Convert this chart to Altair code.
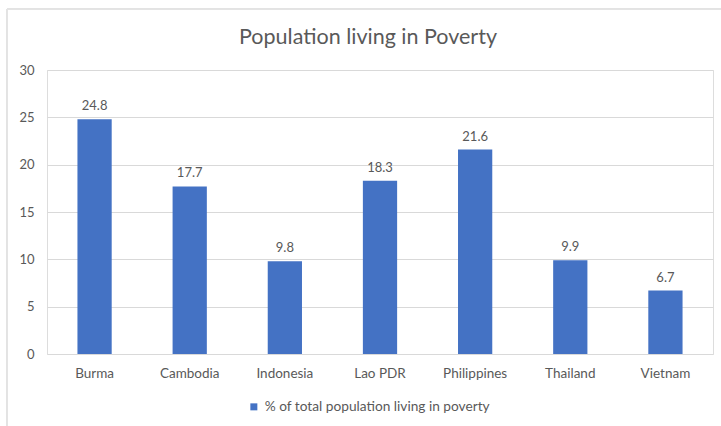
import altair as alt
import pandas as pd

countries = ["Burma", "Cambodia", "Indonesia", "Lao PDR", "Philippines", "Thailand", "Vietnam"]
poverty = [24.8, 17.7, 9.8, 18.3, 21.6, 9.9, 6.7]
series_name = "% of total population living in poverty"
chart_title = "Population living in Poverty"
y_ticks = [0, 5, 10, 15, 20, 25, 30]

df = pd.DataFrame({"country": countries, "value": poverty, "series": [series_name] * len(countries)})
title_df = pd.DataFrame({"t": [chart_title]})

FONT = "Lato"
GREY = "#595959"
BLUE = "#4472C4"

x_enc = alt.X("country:N", sort=countries, title=None,
              scale=alt.Scale(paddingInner=0.64, paddingOuter=0.32),
              axis=alt.Axis(labelAngle=0, ticks=False, domain=False, labelPadding=12,
                            labelFontSize=13.5, labelColor=GREY, labelFont=FONT))
y_enc = alt.Y("value:Q", title=None,
              scale=alt.Scale(domain=[0, 30]),
              axis=alt.Axis(values=y_ticks, ticks=False, domain=False, labelPadding=13,
                            labelFontSize=13, labelColor=GREY, labelFont=FONT,
                            gridColor="#D9D9D9", gridWidth=1))

bars = alt.Chart(df).mark_bar(color=BLUE).encode(
    x=x_enc,
    y=y_enc,
    color=alt.Color("series:N", scale=alt.Scale(range=[BLUE]), title=None,
                    legend=alt.Legend(orient="none", legendX=200, legendY=330,
                                      symbolType="square", symbolSize=49,
                                      symbolStrokeWidth=0, labelFont=FONT,
                                      labelFontSize=13.7, labelColor=GREY,
                                      padding=0, labelOffset=4, labelLimit=0)),
)

labels = alt.Chart(df).mark_text(baseline="alphabetic", dy=-9, fontSize=13, font=FONT, color=GREY).encode(
    x=alt.X("country:N", sort=countries),
    y="value:Q",
    text=alt.Text("value:Q", format=".1f"),
)

title_mark = alt.Chart(title_df).mark_text(fontSize=21.5, font=FONT, color=GREY,
                                           align="center", baseline="middle").encode(
    x=alt.value(321), y=alt.value(-32), text="t:N"
)

frame_top = alt.Chart(df).mark_rule(color="#E3E3E3", strokeWidth=1).encode(
    x=alt.value(-40), x2=alt.value(700), y=alt.value(-61)
)
frame_left = alt.Chart(df).mark_rule(color="#E3E3E3", strokeWidth=1).encode(
    x=alt.value(-40), y=alt.value(-61), y2=alt.value(400)
)

chart = alt.layer(frame_top, frame_left, bars, labels, title_mark).properties(
    width=666,
    height=284,
    autosize=alt.AutoSizeParams(type="none"),
    padding={"left": 47, "top": 70, "right": 8, "bottom": 72},
).configure_view(stroke=None).configure(background="white")

chart.save("out.html", embed_options={"renderer": "svg", "actions": False})
